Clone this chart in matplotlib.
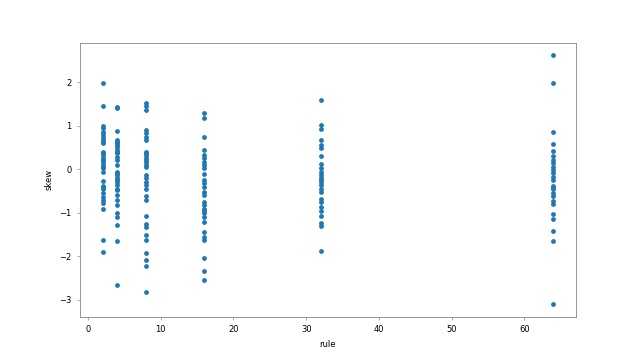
from matplotlib import pyplot as plt

rules = [2, 4, 8, 16, 32, 64]

skew_2 = [1.97, 1.46, 0.99, 0.94, 0.86, 0.80, 0.74, 0.67, 0.62, 0.59, 0.40, 0.36, 0.32, 0.25,
          0.21, 0.17, 0.09, 0.05, 0.02, -0.06, -0.27, -0.38, -0.42, -0.46, -0.56, -0.64, -0.71,
          -0.79, -0.91, -1.64, -1.90]
skew_4 = [1.43, 1.41, 0.88, 0.67, 0.63, 0.59, 0.55, 0.51, 0.44, 0.40, 0.36, 0.28, 0.21, 0.09,
          -0.06, -0.10, -0.14, -0.21, -0.25, -0.29, -0.37, -0.45, -0.48, -0.60, -0.71, -0.83,
          -1.01, -1.10, -1.29, -1.66, -2.67]
skew_8 = [1.51, 1.44, 1.37, 0.91, 0.82, 0.74, 0.68, 0.40, 0.36, 0.32, 0.25, 0.21, 0.17, 0.09,
          0.05, -0.14, -0.21, -0.29, -0.37, -0.46, -0.61, -0.71, -1.08, -1.27, -1.33, -1.52,
          -1.62, -1.92, -2.08, -2.23, -2.83]
skew_16 = [1.30, 1.17, 0.74, 0.45, 0.32, 0.25, 0.17, 0.09, 0.02, -0.12, -0.25, -0.33, -0.41,
           -0.52, -0.60, -0.75, -0.83, -0.91, -0.96, -1.02, -1.10, -1.21, -1.44, -1.56, -1.64,
           -2.04, -2.35, -2.54]
skew_32 = [1.60, 1.01, 0.92, 0.68, 0.55, 0.48, 0.30, 0.11, 0.02, -0.06, -0.14, -0.21, -0.25,
           -0.29, -0.37, -0.45, -0.52, -0.68, -0.75, -0.87, -0.97, -1.08, -1.25, -1.31, -1.88]
skew_64 = [2.62, 1.99, 0.85, 0.57, 0.41, 0.30, 0.22, 0.15, 0.05, -0.02, -0.10, -0.18, -0.25,
           -0.38, -0.42, -0.46, -0.54, -0.61, -0.74, -0.81, -1.04, -1.14, -1.43, -1.65, -3.11]

all_skews = [skew_2, skew_4, skew_8, skew_16, skew_32, skew_64]

x = []
y = []
for r, vals in zip(rules, all_skews):
    x += [r] * len(vals)
    y += vals

plt.figure(figsize=(6.4, 3.56), dpi=100)
ax = plt.subplot(1, 1, 1)
plt.scatter(x, y, s=6, color='#1f77b4')
plt.xlabel('rule', fontsize=6)
plt.ylabel('skew', fontsize=6)
ax.tick_params(labelsize=6, width=0.5, length=2.5, color='#888888')
for s in ax.spines.values():
    s.set_linewidth(0.6)
    s.set_color('#888888')
plt.savefig('out.png')
